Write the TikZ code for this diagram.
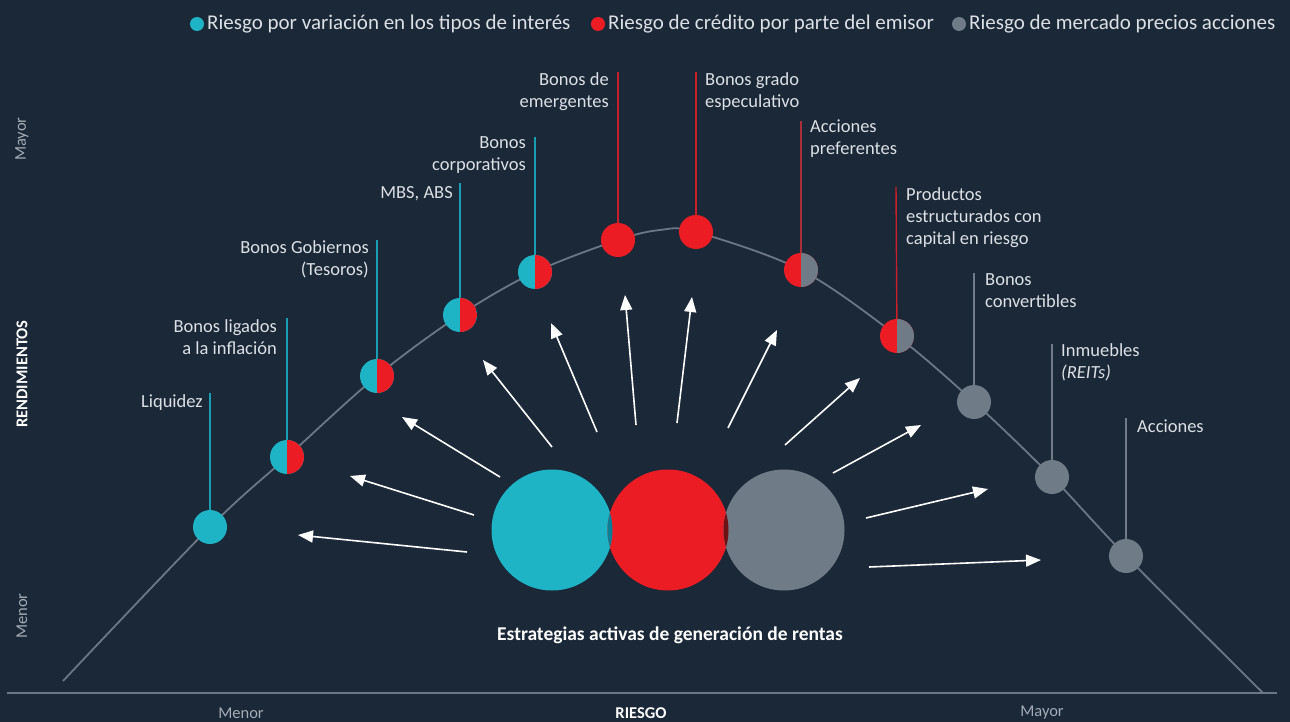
\documentclass[tikz,border=0pt]{standalone}
\usepackage{fontspec}
\setmainfont{Carlito}
\usetikzlibrary{arrows.meta}
\definecolor{bg}{HTML}{1A2838}
\definecolor{cteal}{HTML}{1FB3C6}
\definecolor{cred}{HTML}{EC1C24}
\definecolor{cgray}{HTML}{6F7B87}
\definecolor{curvec}{HTML}{6B7785}
\definecolor{lteal}{HTML}{1A9DB2}
\definecolor{lred}{HTML}{C8202A}
\definecolor{ldred}{HTML}{A8303A}
\definecolor{lgray}{HTML}{6F7B87}
\definecolor{txt}{HTML}{DCE0E5}
\definecolor{axtxt}{HTML}{A3ABB5}
\definecolor{ovteal}{HTML}{0A7E96}
\definecolor{ovred}{HTML}{6E1216}
\tikzset{
  dot/.style={circle, minimum size=34pt, inner sep=0pt, draw=none},
  half/.style 2 args={dot, fill=#1, path picture={\fill[#2] (path picture bounding box.north) rectangle (path picture bounding box.south east);}},
  bigc/.style={circle, minimum size=121pt, inner sep=0pt, draw=none},
  lead/.style={line width=1.4pt},
  lbl/.style={text=txt, font=\fontsize{18.5}{22}\selectfont, inner sep=0pt},
  lgd/.style={text=txt, font=\fontsize{21}{24}\selectfont, inner sep=0pt, anchor=west},
  ldot/.style={circle, minimum size=14pt, inner sep=0pt},
  arr/.style={white, line width=1.6pt, -{Triangle[length=15pt,width=12pt]}},
  axl/.style={text=axtxt, font=\fontsize{16.5}{18}\selectfont, inner sep=0pt},
  axb/.style={text=white, font=\bfseries\fontsize{16.5}{18}\selectfont, inner sep=0pt}
}
\begin{document}
\begin{tikzpicture}[x=1pt,y=-1pt]
\fill[bg] (0,0) rectangle (1290,722);
\useasboundingbox (0,0) rectangle (1290,722);

% legend
\node[ldot, fill=cteal] (l1) at (197,24) {};
\node[lgd] (l1t) at (207,24) {Riesgo por variación en los tipos de interés};
\node[ldot, fill=cred] (l2) at (598,24) {};
\node[lgd] (l2t) at (608,24) {Riesgo de crédito por parte del emisor};
\node[ldot, fill=cgray] (l3) at (959,24) {};
\node[lgd] (l3t) at (969,24) {Riesgo de mercado precios acciones};

% axes
\coordinate (axL) at (7,693);
\coordinate (axR) at (1277,693);
\draw[curvec, line width=1.8pt] (axL) -- (axR);
\node[axl, rotate=90] (ymay) at (22,139) {Mayor};
\node[axb, rotate=90] (yrend) at (22,374) {RENDIMIENTOS};
\node[axl, rotate=90] (ymen) at (22,616) {Menor};
\node[axl] (xmen) at (241,713) {Menor};
\node[axb] (xrie) at (641,713) {RIESGO};
\node[axl] (xmay) at (1042,713) {Mayor};

% curve
\draw[curvec, line width=1.8pt] plot[smooth, tension=0.55] coordinates {
 (63,681) (210,527) (287,457) (377,376) (460,315) (535,272) (618,240) (660,230) (696,232) (801,270) (897,336) (974,402) (1052,477) (1126,556) (1263,693)};

% leader tops
\coordinate (t1) at (210,393);
\coordinate (t2) at (287,318);
\coordinate (t3) at (377,240);
\coordinate (t4) at (460,183);
\coordinate (t5) at (535,137);
\coordinate (t6) at (618,72);
\coordinate (t7) at (696,72);
\coordinate (t8) at (801,121);
\coordinate (t9) at (896,187);
\coordinate (t10) at (974,273);
\coordinate (t11) at (1052,344);
\coordinate (t12) at (1126,418);

\draw[lead, lteal] (t1) -- (210,527);
\draw[lead, lteal] (t2) -- (287,457);
\draw[lead, lteal] (t3) -- (377,376);
\draw[lead, lteal] (t4) -- (460,315);
\draw[lead, lteal] (t5) -- (535,272);
\draw[lead, lred] (t6) -- (618,240);
\draw[lead, lred] (t7) -- (696,232);
\draw[lead, ldred] (t8) -- (801,270);
\draw[lead, lred] (t9) -- (897,336);
\draw[lead, lgray] (t10) -- (974,402);
\draw[lead, lgray] (t11) -- (1052,477);
\draw[lead, lgray] (t12) -- (1126,556);

% dots
\node[dot, fill=cteal] (n1) at (210,527) {};
\node[half={cteal}{cred}] (n2) at (287,457) {};
\node[half={cteal}{cred}] (n3) at (377,376) {};
\node[half={cteal}{cred}] (n4) at (460,315) {};
\node[half={cteal}{cred}] (n5) at (535,272) {};
\node[dot, fill=cred] (n6) at (618,240) {};
\node[dot, fill=cred] (n7) at (696,232) {};
\node[half={cred}{cgray}] (n8) at (801,270) {};
\node[half={cred}{cgray}] (n9) at (897,336) {};
\node[dot, fill=cgray] (n10) at (974,402) {};
\node[dot, fill=cgray] (n11) at (1052,477) {};
\node[dot, fill=cgray] (n12) at (1126,556) {};

% labels
\node[lbl, anchor=north east, align=right] (b1) at (203,394) {Liquidez};
\node[lbl, anchor=north east, align=right] (b2) at (277,319) {Bonos ligados\\a la inflación};
\node[lbl, anchor=north east, align=right] (b3) at (369,240) {Bonos Gobiernos\\(Tesoros)};
\node[lbl, anchor=north east, align=right] (b4) at (453,186) {MBS, ABS};
\node[lbl, anchor=north east, align=right] (b5) at (526,136) {Bonos\\corporativos};
\node[lbl, anchor=north east, align=right] (b6) at (609,72) {Bonos de\\emergentes};
\node[lbl, anchor=north west, align=left] (b7) at (705,72) {Bonos grado\\especulativo};
\node[lbl, anchor=north west, align=left] (b8) at (810,120) {Acciones\\preferentes};
\node[lbl, anchor=north west, align=left] (b9) at (906,187) {Productos\\estructurados con\\capital en riesgo};
\node[lbl, anchor=north west, align=left] (b10) at (985,273) {Bonos\\convertibles};
\node[lbl, anchor=north west, align=left] (b11) at (1061,343) {Inmuebles\\\textit{(REITs)}};
\node[lbl, anchor=north west, align=left] (b12) at (1137,420) {Acciones};

% central circles
\node[bigc, fill=cteal] (ca) at (552,530) {};
\node[bigc, fill=cred] (cb) at (668,530) {};
\node[bigc, fill=cgray] (cc) at (784,530) {};
\begin{scope}
  \clip (ca.center) circle[radius=60.5pt];
  \fill[ovteal] (cb.center) circle[radius=60.5pt];
\end{scope}
\begin{scope}
  \clip (cb.center) circle[radius=60.5pt];
  \fill[ovred] (cc.center) circle[radius=60.5pt];
\end{scope}
\node[text=white, font=\bfseries\fontsize{19.5}{22}\selectfont, inner sep=0pt] (title) at (670,635) {Estrategias activas de generación de rentas};

% arrows
\coordinate (s1) at (467,552);  \coordinate (e1) at (298,535);
\coordinate (s2) at (474,515);  \coordinate (e2) at (350,476);
\coordinate (s3) at (500,477);  \coordinate (e3) at (402,417);
\coordinate (s4) at (552,447);  \coordinate (e4) at (483,360);
\coordinate (s5) at (597,432);  \coordinate (e5) at (551,323);
\coordinate (s6) at (636,425);  \coordinate (e6) at (625,295);
\coordinate (s7) at (677,423);  \coordinate (e7) at (692,297);
\coordinate (s8) at (728,428);  \coordinate (e8) at (777,330);
\coordinate (s9) at (785,445);  \coordinate (e9) at (860,378);
\coordinate (s10) at (833,473); \coordinate (e10) at (921,425);
\coordinate (s11) at (866,518); \coordinate (e11) at (988,489);
\coordinate (s12) at (869,567); \coordinate (e12) at (1041,560);
\foreach \i in {1,...,12} { \draw[arr] (s\i) -- (e\i); }
\end{tikzpicture}
\end{document}
